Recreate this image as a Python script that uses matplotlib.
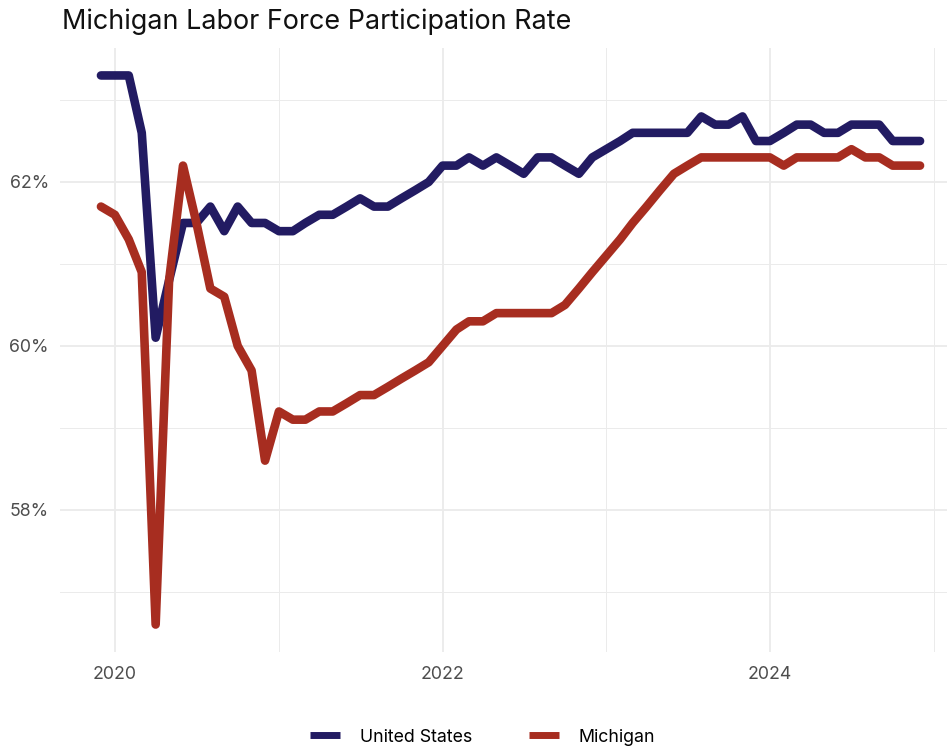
import matplotlib
matplotlib.use("Agg")
import matplotlib.pyplot as plt
import matplotlib.dates as mdates
from matplotlib.ticker import FixedLocator, FuncFormatter
import pandas as pd

# monthly data, Dec 2019 - Dec 2024
months = pd.date_range("2019-12-01", "2024-12-01", freq="MS")

us_rate = [
    63.3,
    63.3, 63.3, 62.6, 60.1, 60.8, 61.5, 61.5, 61.7, 61.4, 61.7, 61.5, 61.5,
    61.4, 61.4, 61.5, 61.6, 61.6, 61.7, 61.8, 61.7, 61.7, 61.8, 61.9, 62.0,
    62.2, 62.2, 62.3, 62.2, 62.3, 62.2, 62.1, 62.3, 62.3, 62.2, 62.1, 62.3,
    62.4, 62.5, 62.6, 62.6, 62.6, 62.6, 62.6, 62.8, 62.7, 62.7, 62.8, 62.5,
    62.5, 62.6, 62.7, 62.7, 62.6, 62.6, 62.7, 62.7, 62.7, 62.5, 62.5, 62.5,
]
mi_rate = [
    61.7,
    61.6, 61.3, 60.9, 56.6, 60.8, 62.2, 61.5, 60.7, 60.6, 60.0, 59.7, 58.6,
    59.2, 59.1, 59.1, 59.2, 59.2, 59.3, 59.4, 59.4, 59.5, 59.6, 59.7, 59.8,
    60.0, 60.2, 60.3, 60.3, 60.4, 60.4, 60.4, 60.4, 60.4, 60.5, 60.7, 60.9,
    61.1, 61.3, 61.5, 61.7, 61.9, 62.1, 62.2, 62.3, 62.3, 62.3, 62.3, 62.3,
    62.3, 62.2, 62.3, 62.3, 62.3, 62.3, 62.4, 62.3, 62.3, 62.2, 62.2, 62.2,
]
series_names = ["United States", "Michigan"]
y_major = [58, 60, 62]
y_minor = [57, 59, 61, 63]

COLORS = {
    "us": "#221B62",
    "mi": "#A72D20",
    "grid": "#EBEBEB",
    "tick": "#4D4D4D",
    "title": "#111111",
}

plt.rcParams["font.family"] = ["Inter", "DejaVu Sans"]

W, H = 947, 748
fig = plt.figure(figsize=(W / 100, H / 100), dpi=100, facecolor="white")

# panel in pixel coords (right side runs off the figure like the reference)
left_px, right_px, top_px, bottom_px = 60, 961, 48, 652
ax = fig.add_axes([left_px / W, 1 - bottom_px / H,
                   (right_px - left_px) / W, (bottom_px - top_px) / H])

ax.plot(months, us_rate, color=COLORS["us"], lw=6.2,
        solid_capstyle="round", solid_joinstyle="round", label=series_names[0], zorder=3)
ax.plot(months, mi_rate, color=COLORS["mi"], lw=6.2,
        solid_capstyle="round", solid_joinstyle="round", label=series_names[1], zorder=3)

# ggplot-style 5% expansion
x0, x1 = mdates.date2num(months[0]), mdates.date2num(months[-1])
dx = (x1 - x0) * 0.05
ax.set_xlim(x0 - dx, x1 + dx)
lo, hi = min(us_rate + mi_rate), max(us_rate + mi_rate)
dy = (hi - lo) * 0.05
ax.set_ylim(lo - dy, hi + dy)

ax.xaxis.set_major_locator(FixedLocator(
    [mdates.date2num(pd.Timestamp(f"{y}-01-01")) for y in (2020, 2022, 2024)]))
ax.xaxis.set_minor_locator(FixedLocator(
    [mdates.date2num(pd.Timestamp(f"{y}-01-01")) for y in (2021, 2023, 2025)]))
ax.xaxis.set_major_formatter(FuncFormatter(lambda v, p: mdates.num2date(v).strftime("%Y")))
ax.yaxis.set_major_locator(FixedLocator(y_major))
ax.yaxis.set_minor_locator(FixedLocator(y_minor))
ax.yaxis.set_major_formatter(FuncFormatter(lambda v, p: f"{v:.0f}%"))

ax.grid(which="major", color=COLORS["grid"], lw=1.3, zorder=0)
ax.grid(which="minor", color=COLORS["grid"], lw=0.7, zorder=0)
ax.tick_params(which="both", length=0)
ax.tick_params(axis="x", pad=10, labelsize=12.8, labelcolor=COLORS["tick"])
ax.tick_params(axis="y", pad=8, labelsize=12.8, labelcolor=COLORS["tick"])
for s in ax.spines.values():
    s.set_visible(False)

fig.text(62 / W, 1 - 29 / H, "Michigan Labor Force Participation Rate",
         fontsize=19.4, color=COLORS["title"], ha="left", va="baseline")

handles, labels = ax.get_legend_handles_labels()
leg = fig.legend(handles, labels, loc="center", bbox_to_anchor=(0.5 + 9 / W, 11 / H),
                 ncol=2, frameon=False, fontsize=12.8, handlelength=1.7,
                 handletextpad=1.1, columnspacing=3.2)
for line in leg.get_lines():
    line.set_linewidth(5)
    line.set_solid_capstyle("butt")

fig.savefig("out.png", dpi=100, facecolor="white")
